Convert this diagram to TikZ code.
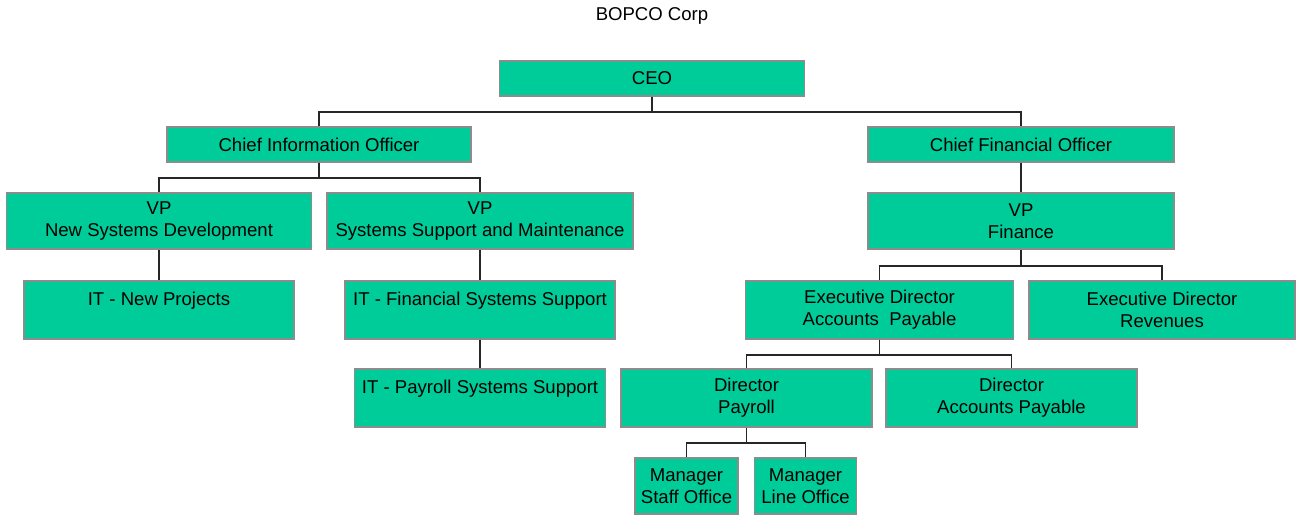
\documentclass[tikz,border=0pt]{standalone}
\usepackage{fontspec}
\setmainfont{Liberation Sans}
\usepackage{tikz}
\usetikzlibrary{positioning}
\definecolor{boxfill}{RGB}{0, 204, 153}
\definecolor{boxline}{RGB}{140, 140, 140}
\tikzstyle{role} = [rectangle, draw=boxline, fill=boxfill, line width=0.035cm, inner sep=0pt, align=center, font=\fontsize{13.2pt}{15.6pt}\selectfont]
\tikzstyle{link} = [line width=0.045cm, draw=black!85]

\begin{document}
\begin{tikzpicture}[x=0.025cm, y=-0.025cm]
    \path[use as bounding box, fill=white] (0,0) rectangle (1296,515);
    % Title
    \node[font=\fontsize{13.2pt}{15.6pt}\selectfont] (title) at (652,16) {BOPCO Corp};

    % Top level
    \node[role, minimum width=7.625cm, minimum height=0.875cm] (ceo) at (652,78.5) {CEO};
    \node[role, minimum width=7.6cm, minimum height=0.875cm] (cio) at (319,144.5) {Chief Information Officer};
    \node[role, minimum width=7.65cm, minimum height=0.875cm] (cfo) at (1021,144.5) {Chief Financial Officer};

    % Vice presidents
    \node[role, minimum width=7.625cm, minimum height=1.4cm] (vpnew) at (159,221) {VP\\New Systems Development};
    \node[role, minimum width=7.65cm, minimum height=1.4cm] (vpsupport) at (480,221) {VP\\Systems Support and Maintenance};
    \node[role, minimum width=7.65cm, minimum height=1.4cm] (vpfinance) at (1021,221) {VP\\Finance};

    % IT groups
    \node[role, minimum width=6.75cm, minimum height=1.45cm] (itprojects) at (159,310) {IT - New Projects\\\mbox{}};
    \node[role, minimum width=6.75cm, minimum height=1.45cm] (itfinancial) at (480,310) {IT - Financial Systems Support\\\mbox{}};
    \node[role, minimum width=6.275cm, minimum height=1.45cm] (itpayroll) at (480,398) {IT - Payroll Systems Support\\\mbox{}};

    % Finance branch
    \node[role, minimum width=6.7cm, minimum height=1.45cm] (edpayable) at (879.5,310) {Executive Director\\Accounts~~Payable};
    \node[role, minimum width=6.65cm, minimum height=1.45cm] (edrevenues) at (1162,310) {Executive Director\\Revenues};
    \node[role, minimum width=6.275cm, minimum height=1.45cm] (dirpayroll) at (746.5,398) {Director\\Payroll};
    \node[role, minimum width=6.275cm, minimum height=1.45cm] (dirpayable) at (1011.5,398) {Director\\Accounts Payable};
    \node[role, minimum width=2.575cm, minimum height=1.4cm] (mgrstaff) at (686.5,486) {Manager\\Staff Office};
    \node[role, minimum width=2.55cm, minimum height=1.4cm] (mgrline) at (805.5,486) {Manager\\Line Office};

    % Connectors
    \draw[link] (ceo.south) -- ++(0,15.5) -| (cio.north);
    \draw[link] (ceo.south) -- ++(0,15.5) -| (cfo.north);
    \draw[link] (cio.south) -- ++(0,15) -| (vpnew.north);
    \draw[link] (cio.south) -- ++(0,15) -| (vpsupport.north);
    \draw[link] (cfo.south) -- (vpfinance.north);
    \draw[link] (vpnew.south) -- (itprojects.north);
    \draw[link] (vpsupport.south) -- (itfinancial.north);
    \draw[link] (itfinancial.south) -- (itpayroll.north);
    \draw[link] (vpfinance.south) -- ++(0,16) -| (edpayable.north);
    \draw[link] (vpfinance.south) -- ++(0,16) -| (edrevenues.north);
    \draw[link] (edpayable.south) -- ++(0,15.5) -| (dirpayroll.north);
    \draw[link] (edpayable.south) -- ++(0,15.5) -| (dirpayable.north);
    \draw[link] (dirpayroll.south) -- ++(0,15.5) -| (mgrstaff.north);
    \draw[link] (dirpayroll.south) -- ++(0,15.5) -| (mgrline.north);
\end{tikzpicture}
\end{document}
